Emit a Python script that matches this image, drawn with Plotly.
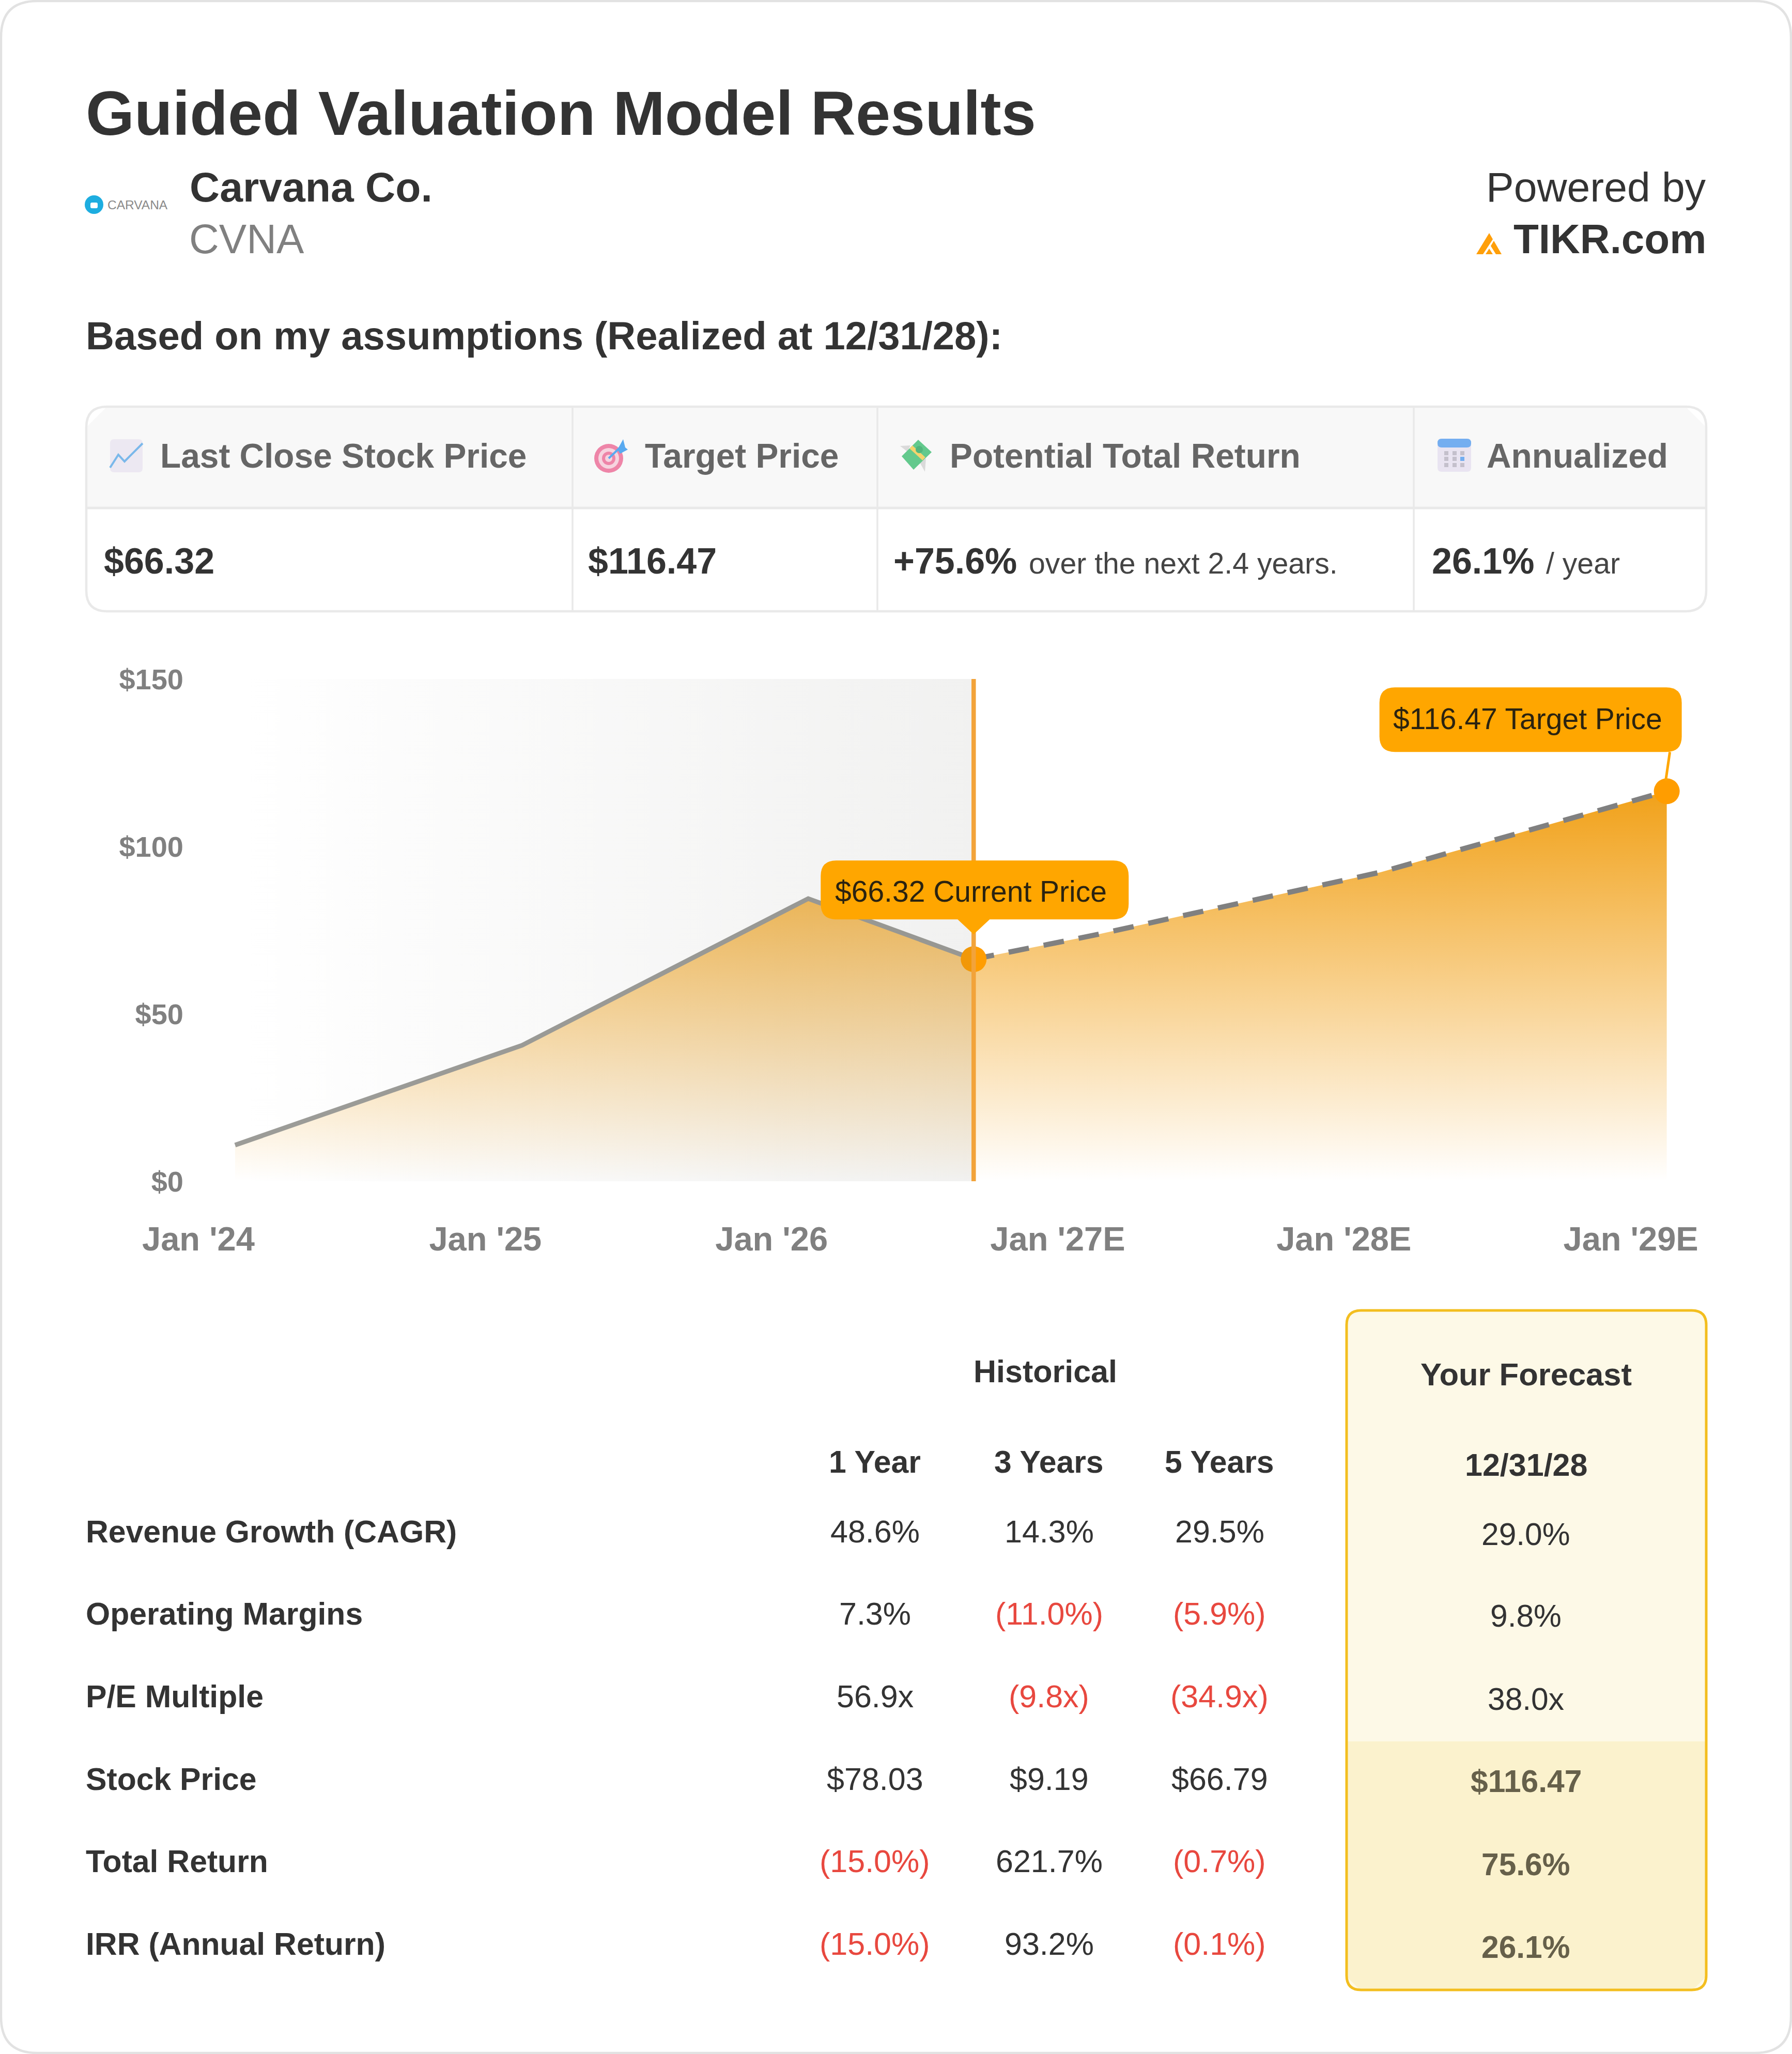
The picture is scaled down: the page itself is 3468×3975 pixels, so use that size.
import plotly.graph_objects as go

W, H = 3468, 3975
FONT = "Liberation Sans"
DARK = "#333333"
RED = "#E8483F"
ORANGE = "#FFA600"

# price chart
hist_dates = ["2024-01-01", "2025-01-01", "2026-01-01", "2026-07-31"]
hist_prices = [10.8, 40.6, 84.4, 66.32]
fcst_dates = ["2026-07-31", "2027-01-01", "2028-01-01", "2028-12-31"]
fcst_prices = [66.32, 73.5, 92.3, 116.47]
tick_dates = ["2024-01-01", "2025-01-01", "2026-01-01", "2027-01-01", "2028-01-01", "2029-01-01"]
tick_labels = ["Jan '24", "Jan '25", "Jan '26", "Jan '27E", "Jan '28E", "Jan '29E"]
y_ticks = [0, 50, 100, 150]
y_labels = ["$0", "$50", "$100", "$150"]

# summary table
summary_heads = ["Last Close Stock Price", "Target Price", "Potential Total Return", "Annualized"]
summary_values = ["$66.32", "$116.47", "+75.6%", "26.1%"]
summary_notes = ["", "", "over the next 2.4 years.", "/ year"]

# results table
metrics = ["Revenue Growth (CAGR)", "Operating Margins", "P/E Multiple", "Stock Price", "Total Return", "IRR (Annual Return)"]
hist_heads = ["1 Year", "3 Years", "5 Years"]
one_year = ["48.6%", "7.3%", "56.9x", "$78.03", "(15.0%)", "(15.0%)"]
three_year = ["14.3%", "(11.0%)", "(9.8x)", "$9.19", "621.7%", "93.2%"]
five_year = ["29.5%", "(5.9%)", "(34.9x)", "$66.79", "(0.7%)", "(0.1%)"]
forecast = ["29.0%", "9.8%", "38.0x", "$116.47", "75.6%", "26.1%"]


def px(x):
    return x / W


def py(y):
    return 1 - y / H


shapes = []
annotations = []


def text(x, y, s, size, color=DARK, bold=False, anchor="left"):
    annotations.append(dict(
        x=px(x), y=py(y), xref="paper", yref="paper", text=s, showarrow=False,
        xanchor=anchor, yanchor="middle", borderpad=0,
        font=dict(family=FONT, size=size, color=color, weight=700 if bold else 400),
    ))


def round_path(x0, y0, x1, y1, r):
    return (f"M{px(x0 + r)},{py(y0)} L{px(x1 - r)},{py(y0)} Q{px(x1)},{py(y0)} {px(x1)},{py(y0 + r)} "
            f"L{px(x1)},{py(y1 - r)} Q{px(x1)},{py(y1)} {px(x1 - r)},{py(y1)} "
            f"L{px(x0 + r)},{py(y1)} Q{px(x0)},{py(y1)} {px(x0)},{py(y1 - r)} "
            f"L{px(x0)},{py(y0 + r)} Q{px(x0)},{py(y0)} {px(x0 + r)},{py(y0)} Z")


def box(x0, y0, x1, y1, r=0, fill="rgba(0,0,0,0)", line=None, lw=0):
    shapes.append(dict(type="path", xref="paper", yref="paper", path=round_path(x0, y0, x1, y1, r),
                       fillcolor=fill, line=dict(color=line or "rgba(0,0,0,0)", width=lw), layer="below"))


def poly(points, fill="rgba(0,0,0,0)", line=None, lw=0, close=True):
    path = "M" + " L".join(f"{px(x)},{py(y)}" for x, y in points) + (" Z" if close else "")
    shapes.append(dict(type="path", xref="paper", yref="paper", path=path,
                       fillcolor=fill, line=dict(color=line or "rgba(0,0,0,0)", width=lw), layer="below"))


def circle(cx, cy, r, fill):
    shapes.append(dict(type="circle", xref="paper", yref="paper", x0=px(cx - r), x1=px(cx + r),
                       y0=py(cy - r), y1=py(cy + r), fillcolor=fill, line=dict(width=0), layer="below"))


def callout(xval, yval, path):
    shapes.append(dict(type="path", xref="x", yref="y", xsizemode="pixel", ysizemode="pixel",
                       xanchor=xval, yanchor=yval, path=path, fillcolor=ORANGE,
                       line=dict(width=0), layer="above"))


def callout_path(l, r, top, bottom, rad, tail=""):
    # offsets in pixels from the data point, up is positive
    return (f"M{l + rad},{top} L{r - rad},{top} Q{r},{top} {r},{top - rad} L{r},{bottom + rad} "
            f"Q{r},{bottom} {r - rad},{bottom} {tail} L{l + rad},{bottom} Q{l},{bottom} {l},{bottom + rad} "
            f"L{l},{top - rad} Q{l},{top} {l + rad},{top} Z")


# card
box(2, 2, W - 2, H - 2, 70, "#FFFFFF", "#E2E2E2", 4.5)

# header
text(165, 219, "Guided Valuation Model Results", 120.8, bold=True)
text(366, 362, "Carvana Co.", 80.5, bold=True)
text(365, 462, "CVNA", 80, color="#808080")
text(3303, 362, "Powered by", 80.5, anchor="right")
text(3303, 462, "TIKR.com", 80, bold=True, anchor="right")
text(165, 650, "Based on my assumptions (Realized at 12/31/28):", 76, bold=True)

circle(182, 396, 18, "#1DADE0")
box(175, 392, 189, 403, 3, "#FFFFFF")
text(207, 396, "CARVANA", 24.5, color="#8A8A8A")

poly([(2857, 492), (2882, 451), (2889, 463), (2870, 492)], "#FF9F0A")
poly([(2891, 466), (2906, 492), (2895, 492), (2885, 476)], "#FF9F0A")
poly([(2882, 481), (2889, 492), (2875, 492)], "#FF9F0A")

# summary table
poly([(207, 787), (3262, 787), (3302, 827), (3302, 984), (167, 984), (167, 827)], "#F8F8F8")
box(167, 787, 3302, 1183, 40, "rgba(0,0,0,0)", "#E9E9E9", 4.5)
poly([(167, 983), (3302, 983)], line="#E9E9E9", lw=5, close=False)
for col_x in [1108, 1698, 2736]:
    poly([(col_x, 789), (col_x, 1181)], line="#E9E9E9", lw=3.5, close=False)

head_x = [309, 1247, 1837, 2876]
value_x = [200, 1137, 1728, 2770]
note_x = [0, 0, 1990, 2991]
for i in range(4):
    text(head_x[i], 882, summary_heads[i], 65.8, color="#666666", bold=True)
    text(value_x[i], 1086, summary_values[i], 70, bold=True)
    if summary_notes[i]:
        text(note_x[i], 1090, summary_notes[i], 57.2, color="#444444")

# chart icon
box(213, 850, 276, 914, 8, "#ECE8F2")
poly([(213, 905), (229, 880), (241, 893), (276, 858)], line="#7AB8EA", lw=4, close=False)
# target icon
circle(1178, 887, 28, "#EE85A8")
circle(1178, 887, 20, "#F6D4DF")
circle(1178, 887, 13, "#EE85A8")
circle(1178, 887, 7, "#F6D4DF")
poly([(1178, 887), (1200, 866)], line="#59AAF0", lw=4, close=False)
poly([(1195, 870), (1206, 850), (1210, 866), (1215, 870), (1200, 878)], "#59AAF0")
# money icon
poly([(1742, 863), (1762, 862), (1756, 874)], "#DADADA")
poly([(1780, 895), (1792, 887), (1790, 913)], "#DADADA")
poly([(1777, 851), (1803, 875), (1768, 909), (1745, 883)], "#63C98D")
poly([(1763, 865), (1788, 888)], line="#F5D36E", lw=8, close=False)
circle(1779, 870, 7, "#52B67C")
# calendar icon
box(2782, 849, 2847, 913, 8, "#E9E4F1")
box(2782, 849, 2847, 866, 8, "#74AEF0")
for dot_y in [877, 888, 900]:
    for dot_x in [2799, 2815, 2830]:
        col = "#74AEF0" if (dot_x == 2830 and dot_y == 888) else "#C4C0CC"
        box(dot_x - 4, dot_y - 4, dot_x + 4, dot_y + 4, 0, col)

# results table
box(2606, 2536, 3302, 3851, 28, "#FDF9E7")
poly([(2606, 3370), (3302, 3370), (3302, 3825), (3276, 3851), (2632, 3851), (2606, 3825)], "#FBF2CD")
box(2606, 2536, 3302, 3851, 28, "rgba(0,0,0,0)", "#F3BE1F", 5)

text(2023, 2654, "Historical", 61, bold=True, anchor="center")
text(2953, 2659, "Your Forecast", 61.5, bold=True, anchor="center")
text(2953, 2835, "12/31/28", 61, bold=True, anchor="center")
col_x = [1693, 2030, 2360]
for x, head in zip(col_x, hist_heads):
    text(x, 2829, head, 60.7, bold=True, anchor="center")
row_y = [2964, 3123, 3283, 3443, 3602, 3762]
fcst_y = [2969, 3127, 3288, 3447, 3608, 3768]
for i, name in enumerate(metrics):
    text(165, row_y[i], name, 60.7, bold=True)
    for x, series in zip(col_x, [one_year, three_year, five_year]):
        val = series[i]
        text(x, row_y[i], val, 61, color=RED if val.startswith("(") else DARK, anchor="center")
    if i < 3:
        text(2953, fcst_y[i], forecast[i], 60.5, anchor="center")
    else:
        text(2953, fcst_y[i], forecast[i], 60.5, color="#66604A", bold=True, anchor="center")

# price chart
fade = [[0, "rgba(240,155,10,0)"], [1, "rgba(240,155,10,0.94)"]]
fig = go.Figure()
fig.add_trace(go.Scatter(x=hist_dates, y=hist_prices, mode="lines", fill="tozeroy",
                         line=dict(color="#9C9C98", width=9),
                         fillgradient=dict(type="vertical", colorscale=fade, start=0, stop=116.47)))
fig.add_trace(go.Scatter(x=fcst_dates, y=fcst_prices, mode="lines", fill="tozeroy",
                         line=dict(color="#808080", width=10, dash="40px,29px"),
                         fillgradient=dict(type="vertical", colorscale=fade, start=0, stop=116.47)))
fig.add_trace(go.Scatter(x=[hist_dates[-1], fcst_dates[-1]], y=[hist_prices[-1], fcst_prices[-1]], mode="markers",
                         marker=dict(color="#FF9D00", size=50)))
# grey wash over the historical part
fig.add_trace(go.Scatter(x=[hist_dates[0], hist_dates[-1], hist_dates[-1], hist_dates[0]],
                         y=[y_ticks[0], y_ticks[0], y_ticks[-1], y_ticks[-1]],
                         mode="none", fill="toself",
                         fillgradient=dict(type="horizontal",
                                           colorscale=[[0, "rgba(100,100,90,0)"], [1, "rgba(100,100,90,0.09)"]])))
fig.add_trace(go.Scatter(x=[hist_dates[-1], hist_dates[-1]], y=[y_ticks[0], y_ticks[-1]], mode="lines",
                         line=dict(color="#F2A33A", width=8.5)))

tail = "L31,77 L0,48 L-31,77"
callout(hist_dates[-1], hist_prices[-1], callout_path(-296, 300, 191, 77, 30, tail))
callout(fcst_dates[-1], fcst_prices[-1], callout_path(-556, 29, 201, 76, 30))
shapes.append(dict(type="line", xref="x", yref="y", xsizemode="pixel", ysizemode="pixel",
                   xanchor=fcst_dates[-1], yanchor=fcst_prices[-1], x0=6, x1=-2, y0=76, y1=21,
                   line=dict(color=ORANGE, width=5), layer="above"))
for xval, yval, s, dx, dy in [(hist_dates[-1], hist_prices[-1], "$66.32 Current Price", -5, 131),
                              (fcst_dates[-1], fcst_prices[-1], "$116.47 Target Price", -269, 140)]:
    annotations.append(dict(x=xval, y=yval, xref="x", yref="y", text=s, showarrow=False, xshift=dx, yshift=dy,
                            xanchor="center", yanchor="middle", borderpad=0,
                            font=dict(family=FONT, size=57, color="#2B2310")))

fig.update_layout(
    width=W, height=H, margin=dict(l=0, r=0, t=0, b=0, pad=0, autoexpand=False), showlegend=False,
    paper_bgcolor="#FFFFFF", plot_bgcolor="rgba(0,0,0,0)", hovermode=False,
    shapes=shapes, annotations=annotations,
    xaxis=dict(domain=[px(370), px(3303)], type="date", range=["2023-11-06", "2029-02-20"], automargin=False,
               tickmode="array", tickvals=tick_dates, ticktext=tick_labels,
               ticklabelshift=-71, ticklabelstandoff=68, showgrid=False, zeroline=False, showline=False, ticks="",
               tickfont=dict(family=FONT, size=65, color="#808080", weight=700)),
    yaxis=dict(domain=[py(2286), py(1314)], range=[0, 150], automargin=False,
               tickmode="array", tickvals=y_ticks, ticktext=y_labels,
               ticklabelstandoff=14, showgrid=False, zeroline=False, showline=False, ticks="",
               tickfont=dict(family=FONT, size=56, color="#808080", weight=700)),
)

fig.write_html("out.html", config={"displayModeBar": False}, post_script="document.body.style.margin='0';")
